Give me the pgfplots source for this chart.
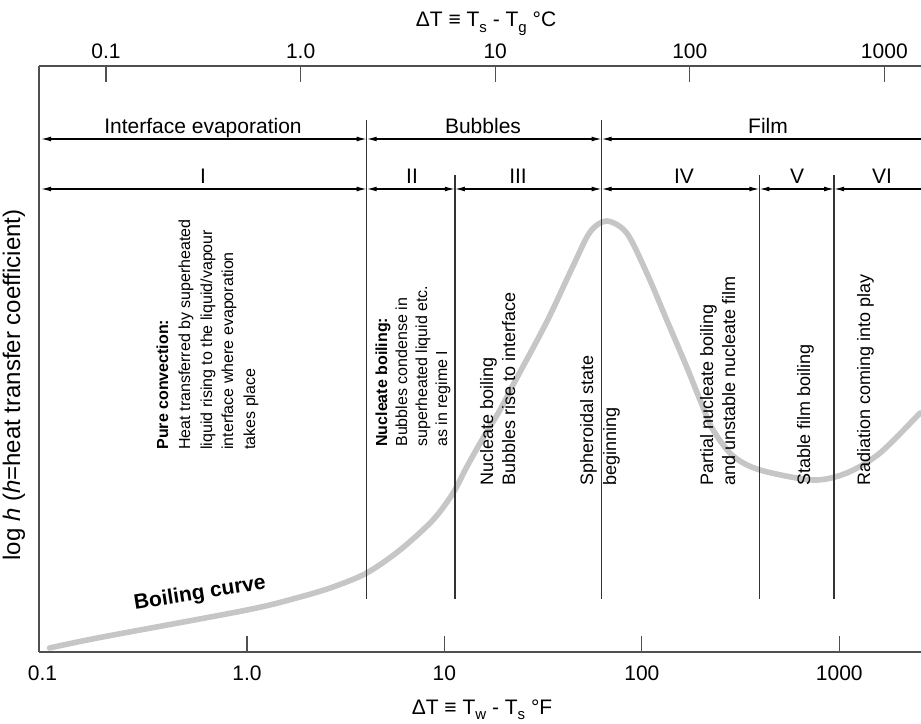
\documentclass[border=0pt]{standalone}
\usepackage{pgfplots}
\pgfplotsset{compat=1.18}
\usepackage{fontspec}
\setmainfont{Liberation Sans}
\usetikzlibrary{arrows.meta}
\definecolor{curvegray}{RGB}{198,198,198}
\definecolor{axgray}{RGB}{80,80,80}
\newcommand{\sub}[1]{\raisebox{-2.6pt}{\fontsize{7.5}{8}\selectfont #1}}
\begin{document}
\begin{tikzpicture}
\useasboundingbox (-19.5pt,-35.5pt) rectangle (441pt,326pt);
\begin{axis}[
  at={(0pt,0pt)}, anchor=south west,
  scale only axis, width=441pt, height=293pt,
  xmode=log, xmin=0.0884, xmax=2594, ymin=0, ymax=586,
  axis x line*=bottom, axis y line*=left,
  axis line style={axgray, line width=0.6pt, -},
  xtick={1,10,100,1000}, xticklabels={1.0,10,100,1000},
  extra x ticks={0.1}, extra x tick labels={0.1},
  extra x tick style={major tick length=0pt, xticklabel style={xshift=-3.5pt}},
  xminorticks=false, ytick=\empty,
  tick align=inside, major tick length=8pt,
  tick style={axgray, line width=0.6pt},
  xticklabel style={font=\fontsize{10.5}{12}\selectfont, yshift=-3.5pt},
  /pgf/number format/assume math mode=true,
]
\addplot[color=curvegray, line width=2.8pt, line cap=round, smooth, tension=0.5] coordinates {
(0.1,4) (0.18,14.5) (1.0,42) (1.856,55) (2.727,65) (4.04,79) (5.96,102) (8.75,132)
(11.06,159) (12.97,185) (15.69,214) (19.12,242) (22.26,267) (32.96,330) (44.83,386)
(54.66,420) (66.4,431) (83.8,419) (105.9,379) (133.7,332) (168.8,285) (197.2,252)
(229.5,222) (289.7,196) (397,182) (736.5,172) (1091,179) (1609,199) (2564,239)
};
% region boundaries
\draw[black!80, line width=0.6pt] (axis cs:4.04,53) -- (axis cs:4.04,532);
\draw[black!80, line width=0.6pt] (axis cs:62.6,53) -- (axis cs:62.6,532);
\draw[black!80, line width=0.6pt] (axis cs:11.3,53) -- (axis cs:11.3,477);
\draw[black!80, line width=0.6pt] (axis cs:394,53) -- (axis cs:394,477);
\draw[black!80, line width=0.6pt] (axis cs:941,53) -- (axis cs:941,477);
% arrows row 1
\tikzset{dbl/.style={{Latex[length=5pt,width=2.4pt]}-{Latex[length=5pt,width=2.4pt]}, line width=0.6pt, black}}
\draw[dbl] (axis cs:0.0905,513) -- (axis cs:4.04,513);
\draw[dbl] (axis cs:4.04,513) -- (axis cs:62.6,513);
\draw[dbl] (axis cs:62.6,513) -- (axis cs:3000,513);
% arrows row 2
\draw[dbl] (axis cs:0.0905,463) -- (axis cs:4.04,463);
\draw[dbl] (axis cs:4.04,463) -- (axis cs:11.3,463);
\draw[dbl] (axis cs:11.3,463) -- (axis cs:62.6,463);
\draw[dbl] (axis cs:62.6,463) -- (axis cs:394,463);
\draw[dbl] (axis cs:394,463) -- (axis cs:941,463);
\draw[dbl] (axis cs:941,463) -- (axis cs:3000,463);
\end{axis}
\begin{axis}[
  at={(0pt,0pt)}, anchor=south west,
  scale only axis, width=441pt, height=293pt,
  xmode=log, xmin=0.04525, xmax=1543, ymin=0, ymax=586,
  axis x line*=top, axis y line=none,
  axis line style={axgray, line width=0.6pt, -},
  xtick={0.1,1,10,100,1000}, xticklabels={0.1,1.0,10,100,1000},
  xminorticks=false, ytick=\empty,
  tick align=inside, major tick length=8pt,
  tick style={axgray, line width=0.6pt},
  xticklabel style={font=\fontsize{10.5}{12}\selectfont},
  /pgf/number format/assume math mode=true,
]
\addplot[draw=none] coordinates {(1,100)};
\end{axis}
\begin{scope}[x=0.5pt,y=-0.5pt,shift={(-19.5pt,326pt)}]
\tikzset{lab/.style={anchor=base, inner sep=0pt, font=\fontsize{10.5}{12}\selectfont},
  rs/.style={rotate=90, anchor=base west, inner sep=0pt, font=\fontsize{8}{10}\selectfont},
  rl/.style={rotate=90, anchor=base west, inner sep=0pt, font=\fontsize{9}{11}\selectfont}}
\node[lab] at (486,27) {ΔT ≡ T\sub{s} - T\sub{g} °C};
\node[lab] at (482,714) {ΔT ≡ T\sub{w} - T\sub{s} °F};
\node[rotate=90, anchor=center, font=\fontsize{12}{14}\selectfont] at (14,385) {log \textit{h} (\textit{h}=heat transfer coefficient)};
\node[lab] at (203,134) {Interface evaporation};
\node[lab] at (483,134) {Bubbles};
\node[lab] at (768,134) {Film};
\node[lab] at (203,184) {I};
\node[lab] at (412,184) {II};
\node[lab] at (518,184) {III};
\node[lab] at (684,184) {IV};
\node[lab] at (797,184) {V};
\node[lab] at (882,184) {VI};
\node[rs] at (168,450) {\bfseries Pure convection:};
\node[rs] at (190,450) {Heat transferred by superheated};
\node[rs] at (212,450) {liquid rising to the liquid/vapour};
\node[rs] at (233,450) {interface where evaporation};
\node[rs] at (255,450) {takes place};
\node[rs] at (387,447) {\bfseries Nucleate boiling:};
\node[rs] at (407,447) {Bubbles condense in};
\node[rs] at (427,447) {superheated liquid etc.};
\node[rs] at (447,447) {as in regime I};
\node[rl] at (493,486) {Nucleate boiling};
\node[rl] at (515,486) {Bubbles rise to interface};
\node[rl] at (593,486) {Spheroidal state};
\node[rl] at (616,486) {beginning};
\node[rl] at (713,486) {Partial nucleate boiling};
\node[rl] at (735,486) {and unstable nucleate film};
\node[rl] at (810,486) {Stable film boiling};
\node[rl] at (870,486) {Radiation coming into play};
\node[rotate=9, inner sep=0pt, font=\bfseries\fontsize{10.5}{12}\selectfont] at (200,594) {Boiling curve};
\end{scope}
\end{tikzpicture}
\end{document}
